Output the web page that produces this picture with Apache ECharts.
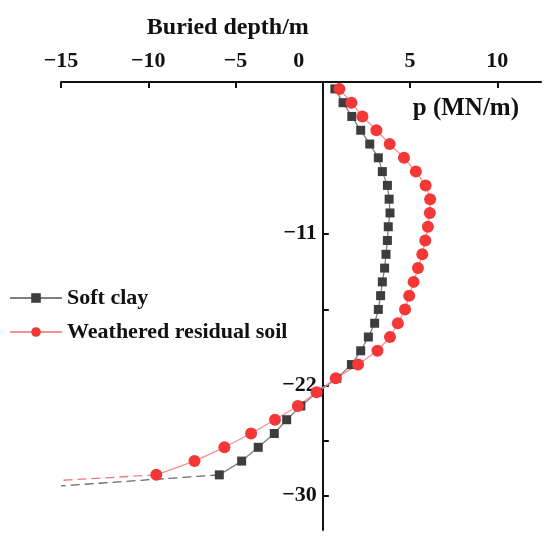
<!DOCTYPE html>
<html>
<head>
<meta charset="utf-8">
<script src="https://cdn.jsdelivr.net/npm/echarts@6/dist/echarts.min.js"></script>
<style>
  html, body { margin: 0; padding: 0; background: #fff; }
  #main { width: 550px; height: 540px; }
</style>
</head>
<body>
<div id="main"></div>
<script>
// depth (m, negative downward) and pressure p (MN/m)
var depth = [-0.5, -1.5, -2.5, -3.5, -4.5, -5.5, -6.5, -7.5, -8.5, -9.5,
             -10.5, -11.5, -12.5, -13.5, -14.5, -15.5, -16.5, -17.5, -18.5, -19.5,
             -20.5, -21.5, -22.5, -23.5, -24.5, -25.5, -26.5, -27.5, -28.5];
var softClay = [0.69, 1.16, 1.66, 2.17, 2.69, 3.18, 3.41, 3.70, 3.80, 3.85,
                3.75, 3.70, 3.62, 3.54, 3.41, 3.31, 3.18, 2.97, 2.61, 2.17,
                1.64, 0.80, -0.30, -1.26, -2.07, -2.78, -3.70, -4.65, -5.93];
var residualSoil = [0.95, 1.64, 2.27, 3.07, 3.83, 4.65, 5.33, 5.89, 6.15, 6.13,
                    6.02, 5.87, 5.70, 5.45, 5.20, 4.95, 4.71, 4.30, 3.85, 3.13,
                    2.02, 0.74, -0.36, -1.43, -2.74, -4.11, -5.64, -7.35, -9.54];
// dashed tail going off the left edge
var softClayTail = [[-5.93, -28.5], [-15, -29.3]];
var residualSoilTail = [[-9.54, -28.5], [-15, -28.9]];

var xTicks = [-15, -10, -5, 0, 5, 10];
var yTicks = [-11, -16.5, -22, -26, -30];
var yLabels = [-11, -22, -30];

var xMin = -15, xMax = 12.5;
var gridLeft = 61, gridRight = 9;

function pairs(xs) {
    return xs.map(function (v, i) { return [v, depth[i]]; });
}
function minus(v) {
    return String(v).replace('-', '\u2212');
}

var font = 'Liberation Serif';
var chart = echarts.init(document.getElementById('main'));
var gridWidth = chart.getWidth() - gridLeft - gridRight;
// put the depth axis on p = 0
var yOffset = -(0 - xMin) / (xMax - xMin) * gridWidth;

var option = {
    backgroundColor: '#fff',
    animation: false,
    grid: { left: gridLeft, right: gridRight, top: 82, bottom: 10 },
    legend: {
        orient: 'vertical',
        left: 4,
        top: 282,
        itemWidth: 52,
        itemHeight: 12,
        itemGap: 12,
        data: ['Soft clay', 'Weathered residual soil'],
        textStyle: { fontFamily: font, fontWeight: 'bold', fontSize: 22, color: '#111' }
    },
    xAxis: {
        type: 'value',
        position: 'top',
        min: xMin,
        max: xMax,
        name: 'p (MN/m)',
        nameLocation: 'end',
        nameGap: 0,
        nameTextStyle: {
            fontFamily: font, fontWeight: 'bold', fontSize: 25, color: '#111',
            align: 'right', verticalAlign: 'top', padding: [14, 22, 0, 0]
        },
        axisLine: { onZero: false, lineStyle: { color: '#111', width: 2 } },
        axisTick: { inside: true, length: 6, customValues: xTicks, lineStyle: { color: '#111', width: 2 } },
        axisLabel: {
            customValues: xTicks,
            margin: 10,
            fontFamily: font, fontWeight: 'bold', fontSize: 22, color: '#111',
            formatter: function (v) { return v === 0 ? '{z|0}' : minus(v); },
            rich: { z: { fontFamily: font, fontWeight: 'bold', fontSize: 22, color: '#111', padding: [0, 48, 0, 0] } }
        },
        splitLine: { show: false }
    },
    yAxis: {
        type: 'value',
        position: 'left',
        offset: yOffset,
        min: -32.5,
        max: 0,
        name: 'Buried depth/m',
        nameLocation: 'end',
        nameGap: 54,
        nameTextStyle: {
            fontFamily: font, fontWeight: 'bold', fontSize: 24, color: '#111',
            align: 'right', verticalAlign: 'middle', padding: [0, 14, 0, 0]
        },
        axisLine: { onZero: false, lineStyle: { color: '#111', width: 2 } },
        axisTick: { inside: true, length: 6, customValues: yTicks, lineStyle: { color: '#111', width: 2 } },
        axisLabel: {
            customValues: yLabels,
            margin: 6,
            fontFamily: font, fontWeight: 'bold', fontSize: 22, color: '#111',
            formatter: minus
        },
        splitLine: { show: false }
    },
    series: [
        {
            name: 'Soft clay',
            type: 'line',
            data: pairs(softClay),
            symbol: 'rect',
            symbolSize: 9,
            itemStyle: { color: '#3d3d3d' },
            lineStyle: { color: '#808080', width: 1.3 }
        },
        {
            name: 'softClayTail',
            type: 'line',
            data: softClayTail,
            symbol: 'none',
            silent: true,
            lineStyle: { color: '#6a6a6a', width: 1.3, type: [9, 5] }
        },
        {
            name: 'residualTail',
            type: 'line',
            data: residualSoilTail,
            symbol: 'none',
            silent: true,
            lineStyle: { color: '#f07a7a', width: 1.3, type: [9, 5] }
        },
        {
            name: 'Weathered residual soil',
            type: 'line',
            data: pairs(residualSoil),
            symbol: 'circle',
            symbolSize: 12,
            itemStyle: { color: '#f43838' },
            lineStyle: { color: '#f49090', width: 1.3 }
        }
    ]
};
chart.setOption(option);
</script>
</body>
</html>
